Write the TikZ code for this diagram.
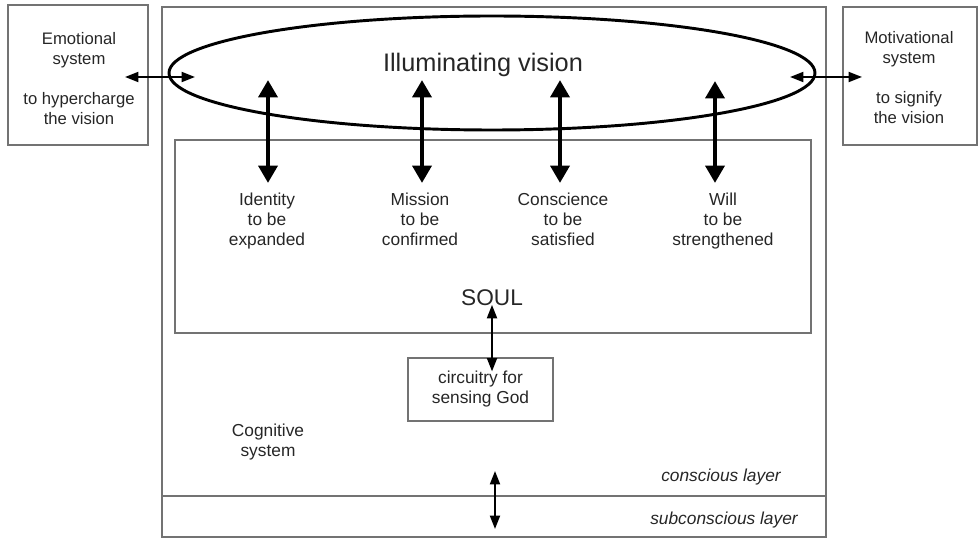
\documentclass[tikz,border=0pt]{standalone}
\usepackage{fontspec}
\setmainfont{Liberation Sans}
\usetikzlibrary{arrows.meta,positioning,shapes.geometric}

\begin{document}
\begin{tikzpicture}[
  x=0.75pt,
  y=-0.75pt,
  every node/.style={font=\fontsize{13}{15}\selectfont, text=black!85},
  frame/.style={draw=black!55, line width=0.9pt, inner sep=0pt},
  word/.style={align=center, inner sep=0pt},
  layer/.style={word, font=\fontsize{13}{15}\selectfont\itshape},
  bigarrow/.style={{Triangle[length=13pt,width=14pt]}-{Triangle[length=13pt,width=14pt]}, line width=3.6pt},
  smallarrow/.style={{Triangle[length=10pt,width=7.5pt]}-{Triangle[length=10pt,width=7.5pt]}, line width=1.4pt}
]
\useasboundingbox (0,0) rectangle (978,541);

% frames
\node[frame, minimum width=498pt, minimum height=397.5pt] (cognitive) at (494,272) {};
\node[frame, minimum width=105pt, minimum height=105pt] (emotional) at (78,75) {};
\node[frame, minimum width=100.5pt, minimum height=103.5pt] (motivational) at (910,76) {};
\node[frame, minimum width=477pt, minimum height=144.75pt] (soulbox) at (493,236.5) {};
\node[frame, word, minimum width=108.75pt, minimum height=47.25pt] (circuit) at (480.5,389.5) {circuitry for\\sensing God};
\coordinate (sep) at (494,496);
\draw[frame] (cognitive.west |- sep) -- (cognitive.east |- sep);

% vision
\node[draw, ellipse, line width=2.2pt, minimum width=484.5pt, minimum height=85.5pt] (vision) at (492,73) {};
\node[word, font=\fontsize{19}{22}\selectfont] (visiontxt) at (483,65) {Illuminating vision};

% texts
\node[word, font=\fontsize{12.5}{15}\selectfont] (emotxt) at (79,79) {Emotional\\system\\[15pt]to hypercharge\\the vision};
\node[word, font=\fontsize{12.5}{15}\selectfont] (mottxt) at (909,78) {Motivational\\system\\[15pt]to signify\\the vision};
\node[word, anchor=north] (identity) at (267,193) {Identity\\to be\\expanded};
\node[word, anchor=north] (mission) at (420,193) {Mission\\to be\\confirmed};
\node[word, anchor=north] (conscience) at (563,193) {Conscience\\to be\\satisfied};
\node[word, anchor=north] (will) at (723,193) {Will\\to be\\strengthened};
\node[word, font=\fontsize{17}{20}\selectfont] (soul) at (492,298) {SOUL};
\node[word] (cogtxt) at (268,442) {Cognitive\\system};
\node[layer] (conscious) at (721,477) {conscious layer};
\node[layer] (subconscious) at (724,520) {subconscious layer};

% connectors
\coordinate (emoend) at (125,77);
\coordinate (visleft) at (195,77);
\coordinate (visright) at (790,77);
\coordinate (motend) at (862,77);
\draw[smallarrow] (emoend) -- (visleft);
\draw[smallarrow] (visright) -- (motend);

\coordinate (idtop) at (268,80);
\coordinate (mistop) at (422,80);
\coordinate (contop) at (560,80);
\coordinate (willtop) at (715,81);
\draw[bigarrow, shorten >=7.5pt] (idtop) -- (idtop |- identity.north);
\draw[bigarrow, shorten >=7.5pt] (mistop) -- (mistop |- mission.north);
\draw[bigarrow, shorten >=7.5pt] (contop) -- (contop |- conscience.north);
\draw[bigarrow, shorten >=7.5pt] (willtop) -- (willtop |- will.north);

\draw[smallarrow, shorten <=-1pt, shorten >=-10.5pt] (soul.south) -- (soul.south |- circuit.north);

\coordinate (layerup) at (495,471);
\coordinate (layerdown) at (495,529);
\draw[smallarrow] (layerup) -- (layerdown);
\end{tikzpicture}
\end{document}
